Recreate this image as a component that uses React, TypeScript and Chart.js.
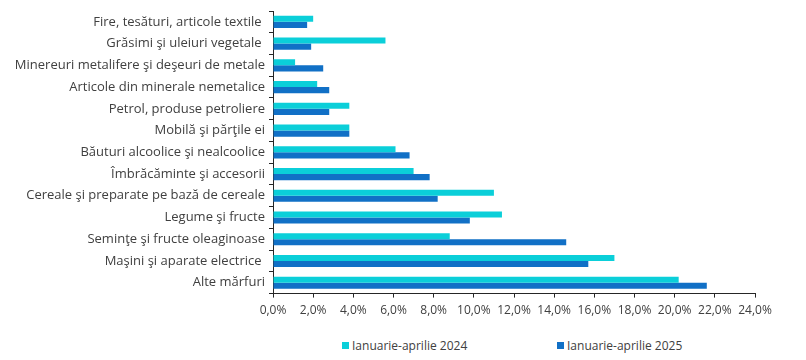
import React, { useEffect, useRef } from "react";
import { Chart, registerables } from "chart.js";

Chart.register(...registerables);

const categories = [
  "Fire, tesături, articole textile ",
  "Grăsimi şi uleiuri vegetale ",
  "Minereuri metalifere şi deşeuri de metale",
  "Articole din minerale nemetalice",
  "Petrol, produse petroliere",
  "Mobilă şi părţile ei",
  "Băuturi alcoolice şi nealcoolice",
  "Îmbrăcăminte şi accesorii",
  "Cereale şi preparate pe bază de cereale",
  "Legume şi fructe",
  "Seminţe şi fructe oleaginoase",
  "Maşini şi aparate electrice ",
  "Alte mărfuri",
];

const series2024 = [2.0, 5.6, 1.1, 2.2, 3.8, 3.8, 6.1, 7.0, 11.0, 11.4, 8.8, 17.0, 20.2];
const series2025 = [1.7, 1.9, 2.5, 2.8, 2.8, 3.8, 6.8, 7.8, 8.2, 9.8, 14.6, 15.7, 21.6];

const seriesNames = ["Ianuarie-aprilie 2024", "Ianuarie-aprilie 2025"];
const seriesColors = ["#0bcfd9", "#1170c6"];

const FONT = "'Open Sans', sans-serif";
const TEXT = "#404040";
const AXIS = "#262626";

export default function App() {
  const ref = useRef<HTMLCanvasElement | null>(null);

  useEffect(() => {
    if (!ref.current) return;
    const chart = new Chart(ref.current, {
      type: "bar",
      data: {
        labels: categories,
        datasets: [
          {
            label: seriesNames[0],
            data: series2024,
            backgroundColor: seriesColors[0],
            categoryPercentage: 0.56,
            barPercentage: 1.0,
          },
          {
            label: seriesNames[1],
            data: series2025,
            backgroundColor: seriesColors[1],
            categoryPercentage: 0.56,
            barPercentage: 1.0,
          },
        ],
      },
      options: {
        indexAxis: "y",
        animation: false,
        responsive: true,
        maintainAspectRatio: false,
        layout: { padding: { top: 3, right: 43, left: 0, bottom: 0 } },
        plugins: {
          legend: { display: false },
          tooltip: { enabled: false },
        },
        scales: {
          x: {
            min: 0,
            max: 24,
            ticks: {
              stepSize: 2,
              color: TEXT,
              font: { family: FONT, size: 12 },
              padding: 6,
              maxRotation: 0,
              callback: (v: any) => Number(v).toFixed(1).replace(".", ",") + "%",
            },
            grid: { drawOnChartArea: false, tickLength: 4, color: AXIS },
            border: { color: AXIS, width: 1 },
          },
          y: {
            ticks: {
              color: TEXT,
              font: { family: FONT, size: 13 },
              padding: 4,
            },
            grid: { drawOnChartArea: false, tickLength: 4, color: AXIS, offset: true },
            border: { color: AXIS, width: 1 },
            afterFit: (scale: any) => {
              scale.width = 265;
              scale.paddingTop = 0;
              scale.paddingBottom = 0;
            },
          },
        },
      },
    });
    return () => chart.destroy();
  }, []);

  return (
    <div style={{ width: 790, fontFamily: FONT }}>
      <div style={{ position: "relative", width: 790, height: 316 }}>
        <canvas ref={ref} />
      </div>
      <div
        style={{
          display: "flex",
          height: 42,
          alignItems: "center",
          paddingLeft: 334,
          fontSize: 12,
          color: TEXT,
        }}
      >
        {seriesNames.map((n, i) => (
          <div key={n} style={{ display: "flex", alignItems: "center", width: 215 }}>
            <span
              style={{
                display: "inline-block",
                width: 7,
                height: 7,
                background: seriesColors[i],
                marginRight: 3,
              }}
            />
            <span>{n}</span>
          </div>
        ))}
      </div>
    </div>
  );
}
